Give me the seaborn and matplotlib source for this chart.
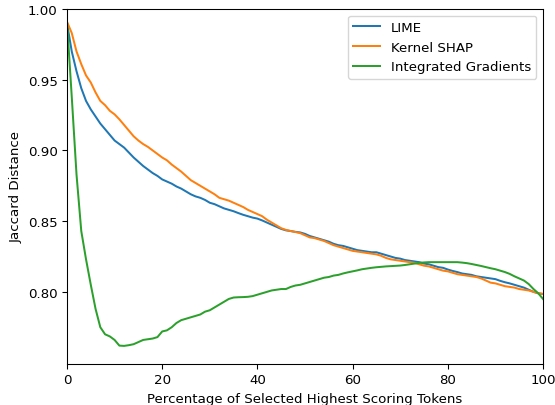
import numpy as np
import pandas as pd
import matplotlib
matplotlib.use("Agg")
import matplotlib.pyplot as plt
import seaborn as sns

x_pct = list(range(0, 101))

lime = [0.990, 0.970, 0.956, 0.944, 0.935, 0.929, 0.924, 0.919, 0.915, 0.911,
        0.907, 0.9045, 0.902, 0.8985, 0.895, 0.892, 0.889, 0.8865, 0.884, 0.882,
        0.8795, 0.878, 0.8765, 0.8745, 0.873, 0.871, 0.869, 0.8675, 0.8665, 0.865,
        0.863, 0.862, 0.8605, 0.859, 0.858, 0.857, 0.8557, 0.8545, 0.8535, 0.8525,
        0.8518, 0.8505, 0.849, 0.8475, 0.846, 0.8445, 0.8435, 0.843, 0.8424, 0.842,
        0.841, 0.8395, 0.8385, 0.8375, 0.8365, 0.8355, 0.834, 0.833, 0.8325, 0.8315,
        0.8305, 0.8295, 0.829, 0.8285, 0.828, 0.828, 0.827, 0.826, 0.825, 0.824,
        0.8235, 0.8225, 0.822, 0.8215, 0.821, 0.820, 0.8195, 0.8185, 0.8175, 0.817,
        0.8158, 0.8148, 0.814, 0.813, 0.8125, 0.812, 0.811, 0.8105, 0.810, 0.8095,
        0.809, 0.8078, 0.8068, 0.806, 0.805, 0.804, 0.803, 0.8015, 0.800, 0.799,
        0.7985]

kernel_shap = [0.991, 0.983, 0.970, 0.961, 0.953, 0.948, 0.941, 0.935, 0.932, 0.928,
               0.9255, 0.922, 0.918, 0.914, 0.910, 0.907, 0.9045, 0.9025, 0.900, 0.8975,
               0.895, 0.893, 0.890, 0.8875, 0.885, 0.882, 0.879, 0.877, 0.875, 0.873,
               0.871, 0.869, 0.8665, 0.8655, 0.8645, 0.863, 0.8615, 0.860, 0.858, 0.8565,
               0.855, 0.8535, 0.851, 0.849, 0.847, 0.845, 0.8438, 0.843, 0.8423, 0.8415,
               0.840, 0.8385, 0.838, 0.837, 0.836, 0.8345, 0.833, 0.832, 0.831, 0.830,
               0.829, 0.8285, 0.828, 0.8275, 0.827, 0.8265, 0.8255, 0.824, 0.823, 0.8225,
               0.822, 0.8215, 0.821, 0.8205, 0.8195, 0.8185, 0.818, 0.817, 0.816, 0.815,
               0.8145, 0.8135, 0.8125, 0.812, 0.8115, 0.811, 0.8105, 0.8095, 0.808, 0.8065,
               0.806, 0.805, 0.804, 0.8035, 0.803, 0.802, 0.8015, 0.801, 0.800, 0.799,
               0.7985]

integrated_gradients = [0.991, 0.938, 0.883, 0.843, 0.823, 0.805, 0.788, 0.775, 0.770, 0.7685,
                        0.766, 0.762, 0.7618, 0.7623, 0.763, 0.7645, 0.766, 0.7665, 0.767, 0.768,
                        0.772, 0.7728, 0.775, 0.778, 0.780, 0.781, 0.782, 0.783, 0.784, 0.786,
                        0.787, 0.789, 0.791, 0.793, 0.795, 0.796, 0.7962, 0.7963, 0.7965, 0.797,
                        0.798, 0.799, 0.800, 0.801, 0.8015, 0.802, 0.802, 0.8035, 0.8045, 0.805,
                        0.806, 0.807, 0.808, 0.809, 0.810, 0.8105, 0.8115, 0.812, 0.813, 0.8138,
                        0.8145, 0.8152, 0.816, 0.8165, 0.817, 0.8174, 0.8177, 0.818, 0.8182, 0.8184,
                        0.8186, 0.819, 0.8195, 0.820, 0.8205, 0.8208, 0.821, 0.821, 0.821, 0.821,
                        0.821, 0.821, 0.821, 0.8207, 0.8203, 0.8197, 0.819, 0.8183, 0.8175, 0.8167,
                        0.816, 0.815, 0.814, 0.8127, 0.811, 0.8095, 0.808, 0.8055, 0.802, 0.799,
                        0.795]

series_names = ["LIME", "Kernel SHAP", "Integrated Gradients"]

df = pd.concat([
    pd.DataFrame({"x": x_pct, "y": vals, "method": name})
    for name, vals in zip(series_names, [lime, kernel_shap, integrated_gradients])
], ignore_index=True)

s = 0.96
plt.rcParams.update({
    "font.size": 10 * s,
    "lines.linewidth": 1.5 * s,
    "axes.linewidth": 0.8 * s,
    "xtick.major.size": 3.5 * s,
    "ytick.major.size": 3.5 * s,
    "xtick.major.width": 0.8 * s,
    "ytick.major.width": 0.8 * s,
    "xtick.major.pad": 3.5 * s,
    "ytick.major.pad": 3.5 * s,
    "axes.labelpad": 4.0 * s,
    "legend.fontsize": 10 * s,
})

fig = plt.figure(figsize=(5.55, 4.06), dpi=100)
ax = fig.add_axes([0.1207, 0.101, 0.8577, 0.8744])
sns.lineplot(data=df, x="x", y="y", hue="method", hue_order=series_names,
             palette=["#1f77b4", "#ff7f0e", "#2ca02c"], linewidth=1.5 * s, ax=ax)
ax.set_xlim(0, 100)
ax.set_ylim(0.749, 1.0)
ax.set_yticks([0.80, 0.85, 0.90, 0.95, 1.00])
ax.set_xlabel("Percentage of Selected Highest Scoring Tokens")
ax.set_ylabel("Jaccard Distance")
ax.legend(title=None, loc="upper right")
fig.savefig("out.png", dpi=100)
